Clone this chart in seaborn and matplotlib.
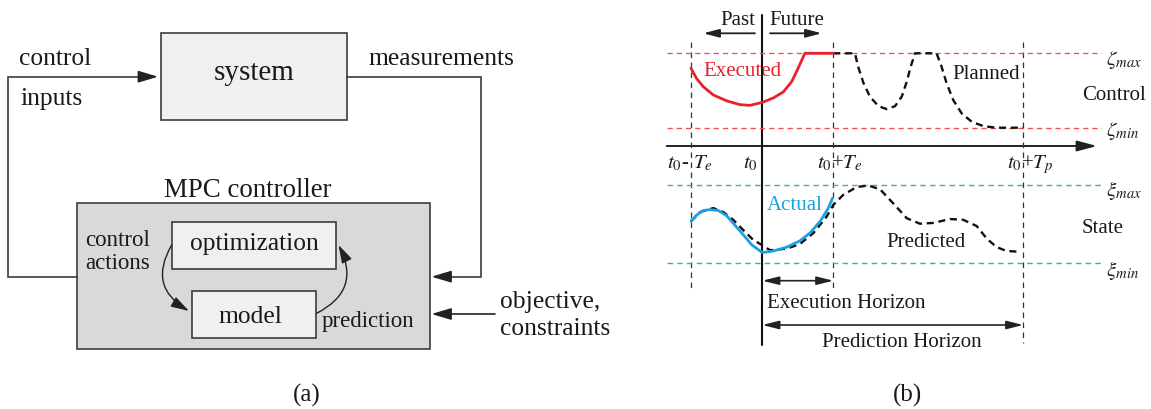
import matplotlib
matplotlib.use("Agg")
import matplotlib.pyplot as plt
from matplotlib.patches import Rectangle
import seaborn as sns

# ---------------- data (panel b) ----------------
# time axis: t0 = 0, execution horizon Te, prediction horizon Tp
T_E = 2.0
T_P = 7.35
ZETA_MIN, ZETA_MAX = 0.0, 1.0
XI_MIN, XI_MAX = 0.0, 1.0

exec_t = [-2.01, -1.85, -1.66, -1.38, -1.00, -0.63, -0.35, 0.0, 0.31, 0.59, 0.83, 1.01, 1.20, 2.0]
exec_u = [0.80, 0.66, 0.55, 0.44, 0.36, 0.31, 0.30, 0.34, 0.40, 0.48, 0.62, 0.80, 1.0, 1.0]

plan_t = [2.0, 2.61, 2.70, 2.85, 3.03, 3.27, 3.50, 3.74, 3.93, 4.07, 4.18, 4.30, 4.91,
          5.05, 5.19, 5.38, 5.62, 5.90, 6.23, 6.60, 7.35]
plan_u = [1.0, 1.0, 0.82, 0.60, 0.42, 0.29, 0.25, 0.29, 0.42, 0.62, 0.82, 1.0, 1.0,
          0.82, 0.60, 0.37, 0.19, 0.08, 0.02, 0.0, 0.0]

act_t = [-2.01, -1.85, -1.66, -1.47, -1.24, -1.00, -0.77, -0.54, -0.30, -0.06, 0.0,
         0.31, 0.69, 1.06, 1.34, 1.63, 1.86, 1.98]
act_x = [0.53, 0.61, 0.67, 0.68, 0.67, 0.60, 0.48, 0.36, 0.23, 0.15, 0.13,
         0.15, 0.20, 0.28, 0.38, 0.53, 0.70, 0.83]

pred_t = [-2.01, -1.75, -1.38, -1.10, -0.82, -0.54, -0.25, -0.06, 0.22, 0.69, 1.06, 1.44,
          1.81, 2.0, 2.28, 2.66, 2.99, 3.32, 3.69, 4.07, 4.44, 4.82, 5.29, 5.66, 6.04,
          6.32, 6.60, 6.88, 7.26]
pred_x = [0.53, 0.65, 0.70, 0.65, 0.55, 0.42, 0.29, 0.24, 0.16, 0.18, 0.24, 0.38,
          0.59, 0.74, 0.87, 0.97, 0.99, 0.94, 0.76, 0.57, 0.50, 0.51, 0.56, 0.55, 0.47,
          0.31, 0.20, 0.15, 0.14]

# ---------------- style ----------------
sns.set_style("white")
plt.rcParams["font.family"] = ["Liberation Serif", "DejaVu Serif"]
plt.rcParams["mathtext.fontset"] = "stix"

W, H = 1151, 409
fig = plt.figure(figsize=(W / 100, H / 100), dpi=100)
fig.patch.set_facecolor("white")

TXT = "#1a1a1a"
EDGE = "#3c3c3c"
RED = "#e8222b"
RED_REF = "#f25050"
GREEN = "#3dbb6e"
CYAN = "#1ba1e2"

ax0 = fig.add_axes([0, 0, 1, 1])
ax0.set_xlim(0, W)
ax0.set_ylim(H, 0)
ax0.axis("off")


def arrow(ax, p0, p1, lw=1.0, hl=1.2, hw=0.36, style="-|>", color="#222222", cs=None):
    props = dict(arrowstyle=f"{style},head_length={hl},head_width={hw}",
                 color=color, lw=lw, shrinkA=0, shrinkB=0, mutation_scale=10)
    if cs:
        props["connectionstyle"] = cs
    ax.annotate("", xy=p1, xytext=p0, arrowprops=props, annotation_clip=False)


# ---------------- panel (a) ----------------
ax0.add_patch(Rectangle((161, 33.3), 186, 86.7, facecolor="#f0f0f0", edgecolor=EDGE, lw=1.2))
ax0.add_patch(Rectangle((76.7, 203.3), 353.3, 145.7, facecolor="#d9d9d9", edgecolor=EDGE, lw=1.2))
ax0.add_patch(Rectangle((171.7, 221.7), 164, 47.3, facecolor="#f0f0f0", edgecolor=EDGE, lw=1.2))
ax0.add_patch(Rectangle((191.7, 290.7), 124, 47.6, facecolor="#f0f0f0", edgecolor=EDGE, lw=1.2))

ax0.text(254, 80, "system", fontsize=21, ha="center", va="baseline", color=TXT)
ax0.text(19, 65, "control", fontsize=18.4, ha="left", va="baseline", color=TXT)
ax0.text(20, 105, "inputs", fontsize=18.4, ha="left", va="baseline", color=TXT)
ax0.text(368, 65, "measurements", fontsize=18.4, ha="left", va="baseline", color=TXT)
ax0.text(164, 196.7, "MPC controller", fontsize=19.4, ha="left", va="baseline", color=TXT)
ax0.text(254, 250, "optimization", fontsize=18.4, ha="center", va="baseline", color=TXT)
ax0.text(250, 323.3, "model", fontsize=18.4, ha="center", va="baseline", color=TXT)
ax0.text(85, 246, "control", fontsize=16.5, ha="left", va="baseline", color=TXT)
ax0.text(85, 269, "actions", fontsize=16.5, ha="left", va="baseline", color=TXT)
ax0.text(321.7, 326.7, "prediction", fontsize=16.5, ha="left", va="baseline", color=TXT)
ax0.text(500, 308.3, "objective,", fontsize=18.4, ha="left", va="baseline", color=TXT)
ax0.text(500, 335, "constraints", fontsize=18.4, ha="left", va="baseline", color=TXT)
ax0.text(307, 402, "(a)", fontsize=18, ha="center", va="baseline", color=TXT)
ax0.text(908, 402, "(b)", fontsize=18, ha="center", va="baseline", color=TXT)

# feedback loop lines
ax0.plot([76.7, 8.3, 8.3, 140], [276.7, 276.7, 76.7, 76.7], color=EDGE, lw=1.2, solid_joinstyle="miter")
arrow(ax0, (140, 76.7), (158, 76.7), lw=1.2)
ax0.plot([347, 480.7, 480.7, 450], [76.7, 76.7, 276.7, 276.7], color=EDGE, lw=1.2, solid_joinstyle="miter")
arrow(ax0, (450, 276.7), (431.5, 276.7), lw=1.2)
arrow(ax0, (495, 314), (431.5, 314), lw=1.2)
# internal curved arrows
arrow(ax0, (171.7, 245), (189, 311), lw=1.0, hl=1.1, hw=0.33, cs="arc3,rad=0.5")
arrow(ax0, (316.7, 313.3), (338.5, 245), lw=1.0, hl=1.1, hw=0.33, cs="arc3,rad=0.5")

# ---------------- panel (b) ----------------
px_t0, px_per_t = 762.3, 35.5
left_px, right_px = 666.7, 1101.7
tmin = (left_px - px_t0) / px_per_t
tmax = (right_px - px_t0) / px_per_t
L, Wf = left_px / W, (right_px - left_px) / W

ax_b = fig.add_axes([L, 0, Wf, 1])
ax_b.set_xlim(tmin, tmax)
ax_b.set_ylim(H, 0)
ax_b.axis("off")
ax_b.patch.set_visible(False)

# control axes (zeta): zeta_max at 53.3 px, zeta_min at 127.7 px
zc_top, zc_bot = 40, 140
zmax_px, zmin_px = 53.3, 127.7
zs = (zmin_px - zmax_px)
ax_c = fig.add_axes([L, 1 - zc_bot / H, Wf, (zc_bot - zc_top) / H])
ax_c.axis("off")
ax_c.patch.set_visible(False)

# state axes (xi): xi_max at 184.7 px, xi_min at 262.7 px
xs_top, xs_bot = 175, 275
xmax_px, xmin_px = 184.7, 262.7
xsc = (xmin_px - xmax_px)
ax_s = fig.add_axes([L, 1 - xs_bot / H, Wf, (xs_bot - xs_top) / H])
ax_s.axis("off")
ax_s.patch.set_visible(False)

# bounds
for v in (ZETA_MAX, ZETA_MIN):
    ax_c.axhline(v, color=RED_REF, lw=0.95, linestyle=(0, (4, 3)))
for v in (XI_MAX, XI_MIN):
    ax_s.axhline(v, color=GREEN, lw=1.0, linestyle=(0, (4, 3)))

# time grid lines
for tv, y1 in ((-T_E, 288), (T_E, 288), (T_P, 343)):
    ax_b.plot([tv, tv], [41.7, y1], color="#333333", lw=0.9, linestyle=(0, (4.5, 3.5)))
ax_b.plot([0, 0], [15, 345], color="#111111", lw=1.5)

# time axis
arrow(ax0, (666.7, 146), (1097, 146), lw=1.4, hl=1.2, hw=0.32)

# curves
sns.lineplot(x=plan_t, y=plan_u, ax=ax_c, color="#111111", linewidth=1.7,
             linestyle=(0, (3, 2)), sort=False, estimator=None)
sns.lineplot(x=exec_t, y=exec_u, ax=ax_c, color=RED, linewidth=2.0, sort=False, estimator=None)
sns.lineplot(x=pred_t, y=pred_x, ax=ax_s, color="#111111", linewidth=1.7,
             linestyle=(0, (3, 2)), sort=False, estimator=None)
sns.lineplot(x=act_t, y=act_x, ax=ax_s, color=CYAN, linewidth=2.0, sort=False, estimator=None)
for a in (ax_c, ax_s):
    a.set_xlim(tmin, tmax)
    a.axis("off")
ax_c.set_ylim((zmin_px - zc_bot) / zs, (zmin_px - zc_top) / zs)
ax_s.set_ylim((xmin_px - xs_bot) / xsc, (xmin_px - xs_top) / xsc)

FS = 15
# past/future
ax0.text(738, 25, "Past", fontsize=FS, ha="center", va="baseline", color=TXT)
ax0.text(797, 25, "Future", fontsize=FS, ha="center", va="baseline", color=TXT)
arrow(ax0, (755, 33.3), (703.3, 33.3), lw=1.3, hl=0.95, hw=0.25)
arrow(ax0, (770, 33.3), (821.7, 33.3), lw=1.3, hl=0.95, hw=0.25)

ax0.text(703, 76, "Executed", fontsize=FS, ha="left", va="baseline", color=RED)
ax0.text(952.7, 79, "Planned", fontsize=FS, ha="left", va="baseline", color=TXT)
ax0.text(1081.7, 100, "Control", fontsize=FS, ha="left", va="baseline", color=TXT)
ax0.text(766.7, 210, "Actual", fontsize=FS, ha="left", va="baseline", color=CYAN)
ax0.text(886.7, 246.7, "Predicted", fontsize=FS, ha="left", va="baseline", color=TXT)
ax0.text(1081.7, 233.3, "State", fontsize=FS, ha="left", va="baseline", color=TXT)

ax0.text(1106, 60, r"$\zeta_{max}$", fontsize=FS, ha="left", va="center", color=TXT)
ax0.text(1106, 131.5, r"$\zeta_{min}$", fontsize=FS, ha="left", va="center", color=TXT)
ax0.text(1106, 191, r"$\xi_{max}$", fontsize=FS, ha="left", va="center", color=TXT)
ax0.text(1106, 271, r"$\xi_{min}$", fontsize=FS, ha="left", va="center", color=TXT)

ax0.text(666.7, 168, r"$t_{\mathit{0}}$- $T_e$", fontsize=FS, ha="left", va="baseline", color=TXT)
ax0.text(743, 168, r"$t_{\mathit{0}}$", fontsize=FS, ha="left", va="baseline", color=TXT)
ax0.text(817, 168, r"$t_{\mathit{0}}$+$T_e$", fontsize=FS, ha="left", va="baseline", color=TXT)
ax0.text(1007, 168, r"$t_{\mathit{0}}$+$T_p$", fontsize=FS, ha="left", va="baseline", color=TXT)

# horizons
arrow(ax_b, (0, 280.7), (T_E, 280.7), lw=1.2, hl=1.0, hw=0.25, style="<|-|>")
arrow(ax_b, (0, 325), (T_P, 325), lw=1.2, hl=1.0, hw=0.25, style="<|-|>")
ax0.text(766.7, 308.3, "Execution Horizon", fontsize=FS, ha="left", va="baseline", color=TXT)
ax0.text(822, 346.7, "Prediction Horizon", fontsize=FS, ha="left", va="baseline", color=TXT)

fig.savefig("out.png", dpi=100)
